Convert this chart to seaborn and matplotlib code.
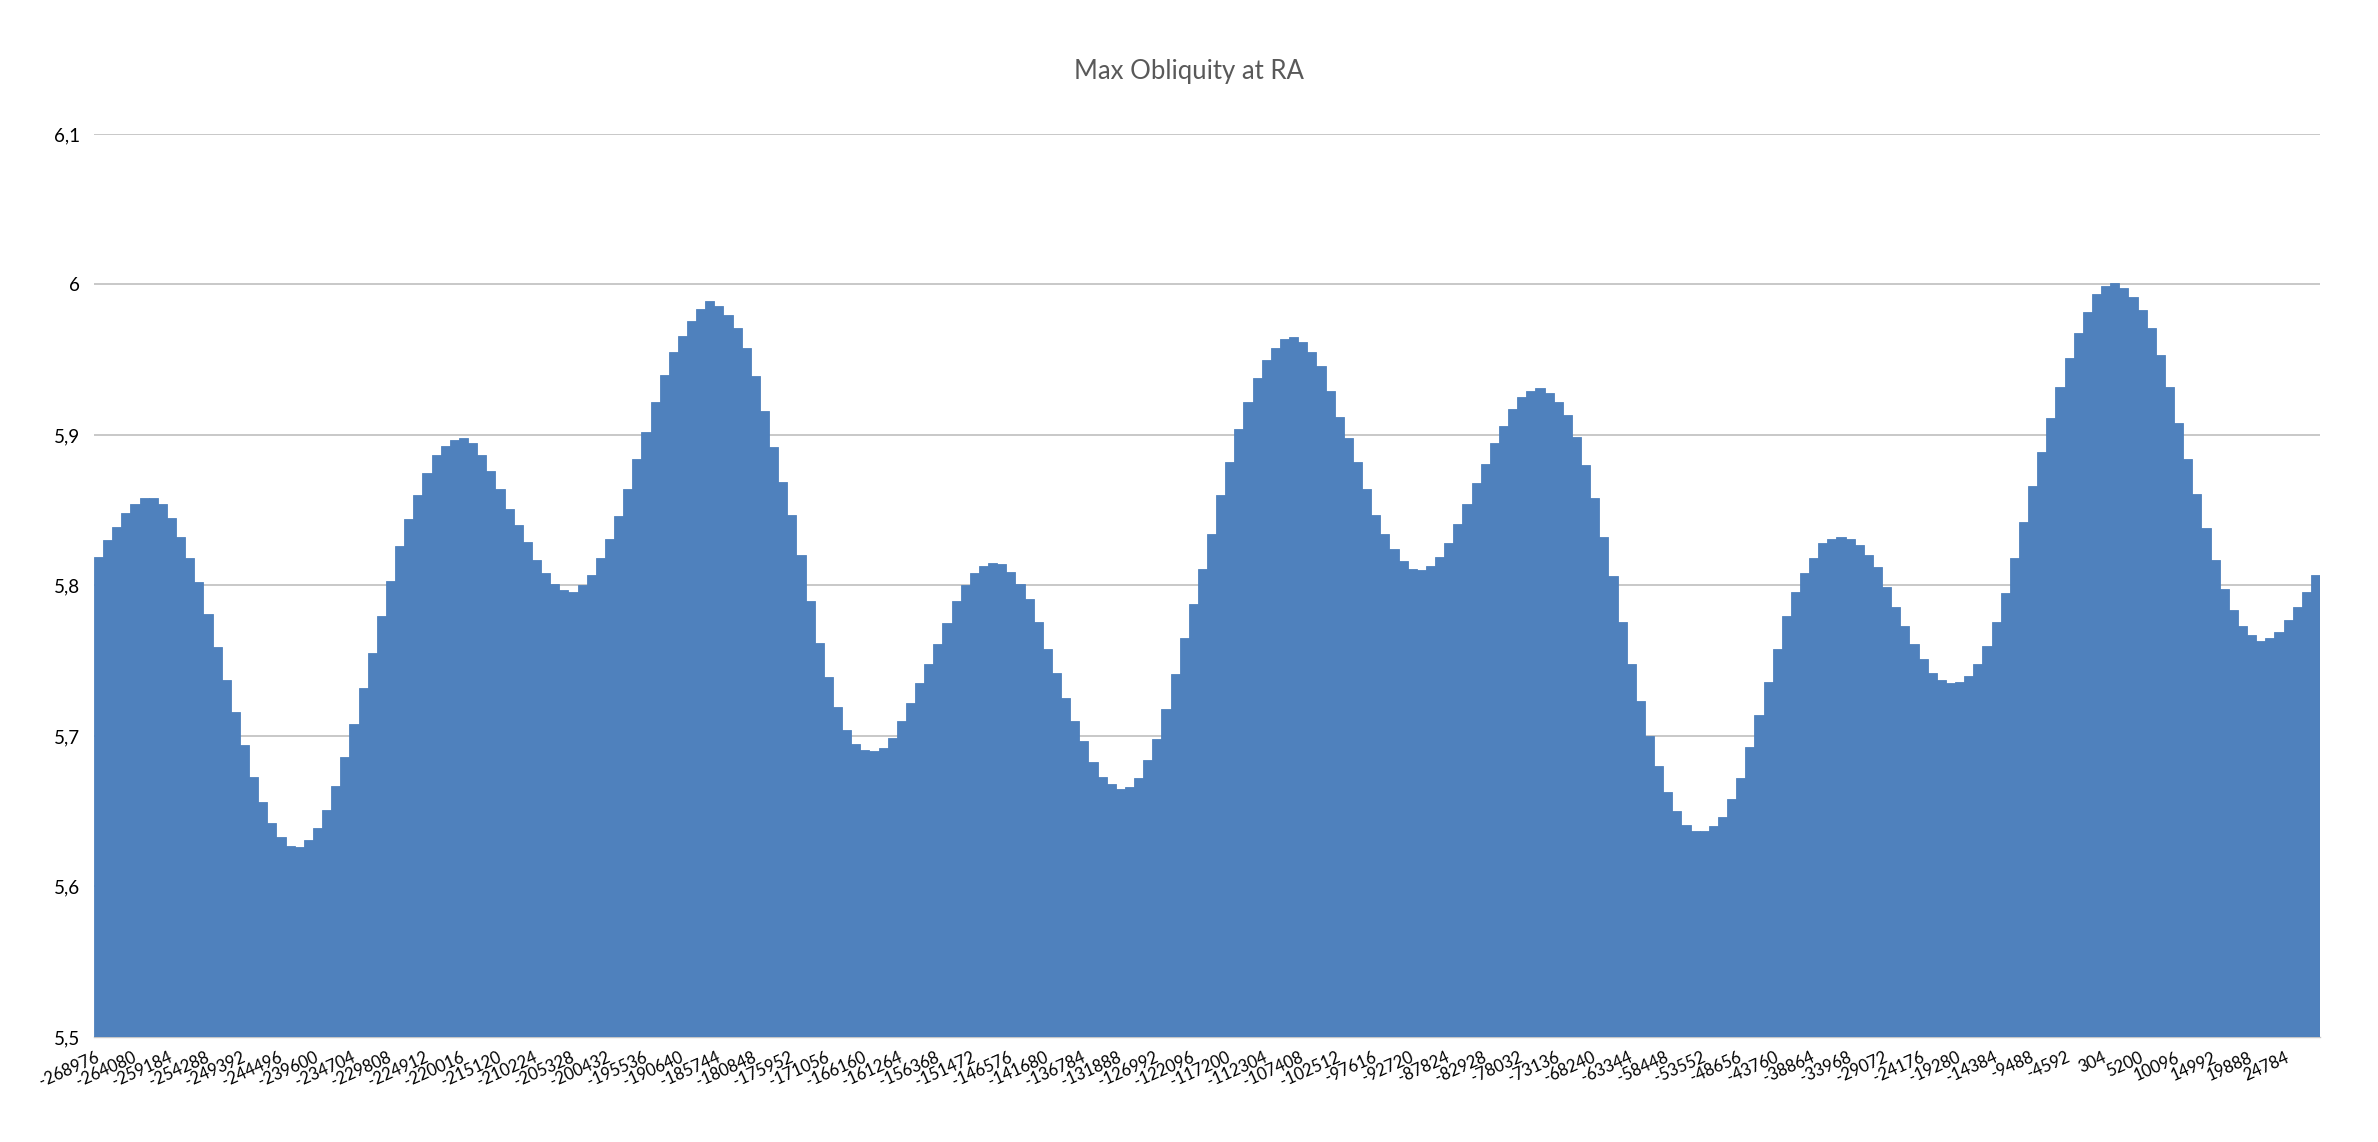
import matplotlib
matplotlib.use("Agg")
import matplotlib.pyplot as plt
import seaborn as sns
import pandas as pd

# ---------------- data ----------------
title = "Max Obliquity at RA"
start_year = -268976
year_step = 1224  # years between successive columns

max_obliquity = [
    5.819, 5.830, 5.839, 5.848, 5.854, 5.858, 5.858, 5.854, 5.845, 5.832,
    5.818, 5.802, 5.781, 5.759, 5.737, 5.716, 5.694, 5.673, 5.656, 5.642,
    5.633, 5.627, 5.626, 5.631, 5.639, 5.651, 5.667, 5.686, 5.708, 5.732,
    5.755, 5.780, 5.803, 5.826, 5.844, 5.860, 5.875, 5.887, 5.893, 5.897,
    5.898, 5.895, 5.887, 5.876, 5.864, 5.851, 5.840, 5.829, 5.817, 5.808,
    5.801, 5.797, 5.796, 5.800, 5.807, 5.818, 5.831, 5.846, 5.864, 5.884,
    5.902, 5.922, 5.940, 5.955, 5.966, 5.976, 5.984, 5.989, 5.986, 5.980,
    5.971, 5.958, 5.939, 5.916, 5.892, 5.869, 5.847, 5.820, 5.790, 5.762,
    5.739, 5.719, 5.704, 5.695, 5.691, 5.690, 5.692, 5.699, 5.710, 5.722,
    5.735, 5.748, 5.761, 5.775, 5.790, 5.800, 5.808, 5.813, 5.815, 5.814,
    5.809, 5.801, 5.791, 5.776, 5.758, 5.742, 5.725, 5.710, 5.697, 5.683,
    5.673, 5.668, 5.665, 5.666, 5.672, 5.684, 5.698, 5.718, 5.741, 5.765,
    5.788, 5.811, 5.834, 5.860, 5.882, 5.904, 5.922, 5.938, 5.950, 5.958,
    5.964, 5.965, 5.962, 5.955, 5.946, 5.929, 5.912, 5.898, 5.882, 5.864,
    5.847, 5.834, 5.824, 5.816, 5.811, 5.810, 5.813, 5.819, 5.828, 5.841,
    5.854, 5.868, 5.881, 5.895, 5.906, 5.917, 5.925, 5.929, 5.931, 5.928,
    5.922, 5.913, 5.899, 5.880, 5.858, 5.832, 5.806, 5.776, 5.748, 5.723,
    5.700, 5.680, 5.663, 5.650, 5.641, 5.637, 5.637, 5.640, 5.646, 5.658,
    5.672, 5.693, 5.714, 5.736, 5.758, 5.780, 5.796, 5.808, 5.818, 5.828,
    5.831, 5.832, 5.831, 5.827, 5.820, 5.812, 5.799, 5.786, 5.773, 5.761,
    5.751, 5.742, 5.737, 5.735, 5.736, 5.740, 5.748, 5.760, 5.776, 5.795,
    5.818, 5.842, 5.866, 5.889, 5.911, 5.932, 5.951, 5.968, 5.982, 5.994,
    5.999, 6.001, 5.998, 5.992, 5.983, 5.971, 5.953, 5.932, 5.908, 5.884,
    5.861, 5.838, 5.817, 5.798, 5.784, 5.773, 5.767, 5.763, 5.765, 5.769,
    5.777, 5.786, 5.796, 5.807,
]
years = [start_year + year_step * i for i in range(len(max_obliquity))]

label_every = 4
x_tick_labels = [
    "-268976", "-264080", "-259184", "-254288", "-249392", "-244496", "-239600",
    "-234704", "-229808", "-224912", "-220016", "-215120", "-210224", "-205328",
    "-200432", "-195536", "-190640", "-185744", "-180848", "-175952", "-171056",
    "-166160", "-161264", "-156368", "-151472", "-146576", "-141680", "-136784",
    "-131888", "-126992", "-122096", "-117200", "-112304", "-107408", "-102512",
    "-97616", "-92720", "-87824", "-82928", "-78032", "-73136", "-68240",
    "-63344", "-58448", "-53552", "-48656", "-43760", "-38864", "-33968",
    "-29072", "-24176", "-19280", "-14384", "-9488", "-4592", "304", "5200",
    "10096", "14992", "19888", "24784",
]
y_ticks = [5.5, 5.6, 5.7, 5.8, 5.9, 6.0, 6.1]
y_tick_labels = ["5,5", "5,6", "5,7", "5,8", "5,9", "6", "6,1"]

df = pd.DataFrame({"year": years, "value": max_obliquity})

# ---------------- style ----------------
sns.set_theme(style="white")
plt.rcParams["font.family"] = ["Lato", "DejaVu Sans"]

bar_color = "#4F81BD"
grid_color = "#C8C8C8"

fig = plt.figure(figsize=(23.78, 11.42), dpi=100)
ax = fig.add_axes([94 / 2378, 1 - 1037 / 1142, 2226 / 2378, (1037 - 134) / 1142])

sns.barplot(
    data=df, x="year", y="value", order=years, color=bar_color,
    width=1.0, saturation=1, linewidth=0.6, edgecolor=bar_color,
    errorbar=None, ax=ax, zorder=3,
)

ax.set_ylim(5.5, 6.1)
ax.set_xlim(-0.5, len(years) - 0.5)
ax.set_yticks(y_ticks)
ax.set_yticklabels(y_tick_labels, fontsize=13.5, color="#000000")
ax.yaxis.grid(True, color=grid_color, linewidth=1.4, zorder=0)
ax.set_axisbelow(True)

tick_pos = list(range(0, len(years), label_every))[: len(x_tick_labels)]
ax.set_xticks(tick_pos)
ax.set_xticklabels(x_tick_labels, fontsize=12, color="#000000",
                   rotation=24, ha="right", va="center", rotation_mode="anchor")
ax.tick_params(axis="x", length=0, pad=14)
ax.tick_params(axis="y", length=0, pad=10)

ax.set_xlabel("")
ax.set_ylabel("")
for side in ["top", "right", "left"]:
    ax.spines[side].set_visible(False)
ax.spines["bottom"].set_color(grid_color)
ax.spines["bottom"].set_linewidth(1.0)

fig.text(0.5, 1 - 72 / 1142, title, ha="center", va="center",
         fontsize=18.5, color="#595959")

fig.savefig("out.png", dpi=100, facecolor="white")
